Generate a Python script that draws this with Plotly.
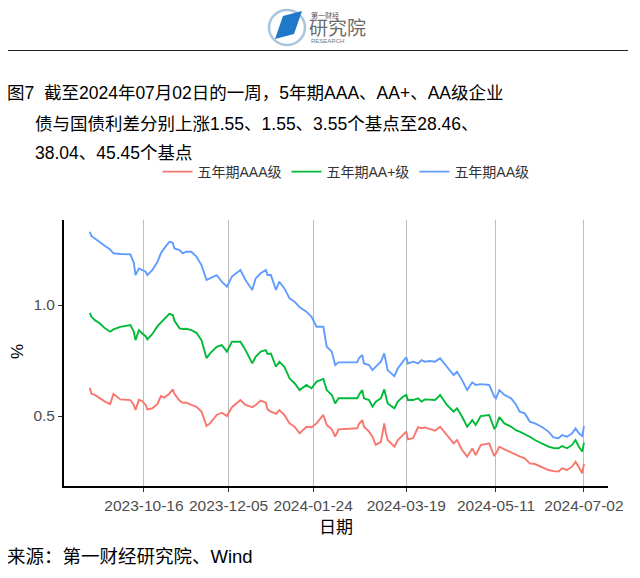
import plotly.graph_objects as go

dates = [
    "2023-09-14", "2023-09-15", "2023-09-17", "2023-09-20", "2023-09-23", "2023-09-26", "2023-09-28",
    "2023-10-02", "2023-10-08", "2023-10-10", "2023-10-11", "2023-10-13", "2023-10-15", "2023-10-17",
    "2023-10-18", "2023-10-21", "2023-10-24", "2023-10-26", "2023-10-28", "2023-10-31", "2023-11-02",
    "2023-11-03", "2023-11-06", "2023-11-08", "2023-11-10", "2023-11-13", "2023-11-16", "2023-11-19",
    "2023-11-22", "2023-11-24", "2023-11-28", "2023-12-01", "2023-12-04", "2023-12-07", "2023-12-12",
    "2023-12-15", "2023-12-19", "2023-12-21", "2023-12-24", "2023-12-27", "2023-12-28", "2023-12-30",
    "2024-01-02", "2024-01-04", "2024-01-07", "2024-01-10", "2024-01-13", "2024-01-16", "2024-01-20",
    "2024-01-23", "2024-01-26", "2024-01-30", "2024-02-01", "2024-02-04", "2024-02-06", "2024-02-08",
    "2024-02-19", "2024-02-20", "2024-02-22", "2024-02-23", "2024-02-26", "2024-02-28", "2024-03-01",
    "2024-03-04", "2024-03-06", "2024-03-07", "2024-03-08", "2024-03-12", "2024-03-14", "2024-03-17",
    "2024-03-19", "2024-03-20", "2024-03-23", "2024-03-26", "2024-03-28", "2024-03-30", "2024-04-02",
    "2024-04-05", "2024-04-08", "2024-04-12", "2024-04-16", "2024-04-18", "2024-04-21", "2024-04-24",
    "2024-04-27", "2024-04-29", "2024-05-02", "2024-05-07", "2024-05-10", "2024-05-11", "2024-05-13",
    "2024-05-16", "2024-05-20", "2024-05-23", "2024-05-25", "2024-05-28", "2024-05-31", "2024-06-03",
    "2024-06-07", "2024-06-11", "2024-06-14", "2024-06-17", "2024-06-19", "2024-06-22", "2024-06-25",
    "2024-06-27", "2024-06-29", "2024-07-01", "2024-07-02",
]

aaa = [
    0.627, 0.600, 0.595, 0.580, 0.565, 0.554, 0.600, 0.575, 0.572, 0.550, 0.527, 0.573, 0.567, 0.550,
    0.530, 0.535, 0.555, 0.590, 0.583, 0.600, 0.620, 0.600, 0.570, 0.560, 0.560, 0.550, 0.542, 0.520,
    0.455, 0.467, 0.505, 0.515, 0.500, 0.540, 0.572, 0.550, 0.540, 0.550, 0.570, 0.560, 0.530, 0.520,
    0.510, 0.527, 0.505, 0.467, 0.452, 0.422, 0.452, 0.450, 0.467, 0.505, 0.460, 0.440, 0.407, 0.440,
    0.445, 0.464, 0.482, 0.452, 0.430, 0.407, 0.370, 0.384, 0.467, 0.422, 0.392, 0.362, 0.392, 0.414,
    0.430, 0.395, 0.400, 0.450, 0.445, 0.449, 0.440, 0.434, 0.452, 0.414, 0.377, 0.392, 0.347, 0.317,
    0.354, 0.324, 0.369, 0.377, 0.320, 0.332, 0.362, 0.350, 0.335, 0.322, 0.318, 0.310, 0.287, 0.284,
    0.269, 0.257, 0.252, 0.250, 0.265, 0.257, 0.272, 0.294, 0.269, 0.242, 0.2846,
]

aa_plus = [
    0.965, 0.947, 0.932, 0.917, 0.895, 0.880, 0.890, 0.902, 0.910, 0.880, 0.842, 0.887, 0.872, 0.860,
    0.845, 0.870, 0.905, 0.922, 0.935, 0.960, 0.955, 0.930, 0.895, 0.892, 0.893, 0.887, 0.875, 0.842,
    0.760, 0.782, 0.812, 0.820, 0.790, 0.835, 0.835, 0.797, 0.737, 0.767, 0.790, 0.797, 0.780, 0.782,
    0.722, 0.745, 0.722, 0.670, 0.648, 0.617, 0.640, 0.625, 0.655, 0.667, 0.617, 0.595, 0.557, 0.580,
    0.580, 0.595, 0.617, 0.580, 0.572, 0.542, 0.565, 0.580, 0.620, 0.580, 0.557, 0.535, 0.565, 0.587,
    0.595, 0.572, 0.572, 0.580, 0.565, 0.575, 0.572, 0.572, 0.595, 0.550, 0.520, 0.535, 0.497, 0.452,
    0.482, 0.460, 0.500, 0.505, 0.444, 0.452, 0.495, 0.467, 0.452, 0.435, 0.430, 0.420, 0.407, 0.392,
    0.377, 0.362, 0.356, 0.355, 0.365, 0.355, 0.370, 0.392, 0.362, 0.340, 0.3804,
]

aa = [
    1.330, 1.310, 1.300, 1.285, 1.266, 1.250, 1.233, 1.230, 1.228, 1.190, 1.135, 1.165, 1.158, 1.150,
    1.135, 1.158, 1.195, 1.233, 1.255, 1.285, 1.280, 1.255, 1.248, 1.233, 1.240, 1.240, 1.218, 1.180,
    1.113, 1.120, 1.135, 1.105, 1.083, 1.128, 1.158, 1.113, 1.068, 1.120, 1.143, 1.158, 1.135, 1.135,
    1.068, 1.105, 1.075, 1.030, 1.015, 0.990, 0.970, 0.947, 0.902, 0.902, 0.812, 0.790, 0.730, 0.742,
    0.742, 0.760, 0.775, 0.737, 0.730, 0.707, 0.722, 0.745, 0.782, 0.737, 0.707, 0.680, 0.715, 0.745,
    0.765, 0.737, 0.745, 0.737, 0.752, 0.745, 0.748, 0.745, 0.760, 0.722, 0.685, 0.700, 0.662, 0.617,
    0.652, 0.640, 0.644, 0.640, 0.587, 0.580, 0.617, 0.595, 0.580, 0.550, 0.520, 0.512, 0.475, 0.467,
    0.452, 0.430, 0.404, 0.400, 0.414, 0.407, 0.422, 0.444, 0.422, 0.410, 0.4545,
]

series_names = ["五年期AAA级", "五年期AA+级", "五年期AA级"]
series_colors = ["#F8766D", "#00BA38", "#619CFF"]
tick_dates = ["2023-10-16", "2023-12-05", "2024-01-24", "2024-03-19", "2024-05-11", "2024-07-02"]
y_ticks = [0.5, 1.0]

title_lines = [
    "图7  截至2024年07月02日的一周，5年期AAA、AA+、AA级企业",
    "债与国债利差分别上涨1.55、1.55、3.55个基点至28.46、",
    "38.04、45.45个基点",
]
source_text = "来源：第一财经研究院、Wind"

# page has an 8px body margin; figure sized to fit the 640x578 window
OFF = 8
W, H = 640 - OFF, 578 - OFF
L, R, T, B = 64, 608, 220, 486  # plot box in window pixels


def px(x):
    return (x - L) / (R - L)


def py(y):
    return (B - y) / (B - T)


FONT = "Liberation Sans, Arial, Noto Sans CJK SC, sans-serif"

fig = go.Figure()
for name, vals, col in zip(series_names, [aaa, aa_plus, aa], series_colors):
    fig.add_trace(go.Scatter(x=dates, y=vals, mode="lines", name=name,
                             line=dict(color=col, width=1.9)))

fig.update_layout(
    width=W, height=H,
    margin=dict(l=L - OFF, r=640 - R, t=T - OFF, b=578 - B),
    paper_bgcolor="white", plot_bgcolor="white",
    font=dict(family=FONT, color="#222"),
    showlegend=True,
    legend=dict(orientation="h", x=px(346), xanchor="center", y=py(172), yanchor="middle",
                font=dict(size=14, color="#333"), bgcolor="rgba(0,0,0,0)",
                itemwidth=30, tracegroupgap=0),
    xaxis=dict(type="date", range=["2023-08-29 18:00", "2024-07-16 05:00"],
               tickvals=tick_dates, tickformat="%Y-%m-%d",
               tickfont=dict(size=15.5, color="#4D4D4D"),
               ticks="outside", ticklen=4, tickcolor="#333", tickwidth=1.2,
               showline=True, linecolor="black", linewidth=1.8,
               showgrid=True, gridcolor="#BEBEBE", gridwidth=1.3, zeroline=False),
    yaxis=dict(range=[0.185, 1.383], tickvals=y_ticks, tickformat=".1f",
               tickfont=dict(size=15.5, color="#4D4D4D"),
               ticks="outside", ticklen=4, tickcolor="#333", tickwidth=1.2,
               showline=True, linecolor="black", linewidth=1.8,
               showgrid=False, zeroline=False),
)

ann = []
ann.append(dict(text=title_lines[0], x=px(5), y=py(93), xanchor="left", yanchor="middle",
                font=dict(size=17.5, color="black")))
ann.append(dict(text=title_lines[1], x=px(33), y=py(124), xanchor="left", yanchor="middle",
                font=dict(size=17.5, color="black")))
ann.append(dict(text=title_lines[2], x=px(33), y=py(153), xanchor="left", yanchor="middle",
                font=dict(size=17.5, color="black")))
ann.append(dict(text="日期", x=px(336), y=py(527), xanchor="center", yanchor="middle",
                font=dict(size=17, color="black")))
ann.append(dict(text="%", x=px(17), y=py(352), xanchor="center", yanchor="middle",
                textangle=-90, height=16, font=dict(size=17, color="black")))
ann.append(dict(text=source_text, x=px(5), y=py(556), xanchor="left", yanchor="middle",
                font=dict(size=18.5, color="black")))
# logo texts
ann.append(dict(text="第一财经", x=px(309), y=py(15), xanchor="left", yanchor="middle",
                font=dict(size=7, color="#555")))
ann.append(dict(text="研究院", x=px(307), y=py(28), xanchor="left", yanchor="middle",
                font=dict(size=19, color="#6b6b6b")))
ann.append(dict(text="RESEARCH", x=px(309), y=py(41), xanchor="left", yanchor="middle",
                font=dict(size=6, color="#777")))
for a in ann:
    a.update(xref="paper", yref="paper", showarrow=False)
fig.update_layout(annotations=ann)

shapes = [
    dict(type="line", x0=px(2), x1=px(628), y0=py(50.5), y1=py(50.5),
         line=dict(color="#222", width=1.2)),
    dict(type="circle", x0=px(269), x1=px(305), y0=py(45), y1=py(10),
         line=dict(color="#a9c6dd", width=2.5)),
    dict(type="path",
         path=f"M {px(275)},{py(39)} L {px(283)},{py(16)} L {px(302)},{py(11)} L {px(294)},{py(34)} Z",
         fillcolor="#1f78c8", line=dict(width=0)),
]
for s in shapes:
    s.update(xref="paper", yref="paper")
fig.update_layout(shapes=shapes)

fig.write_html("out.html")
